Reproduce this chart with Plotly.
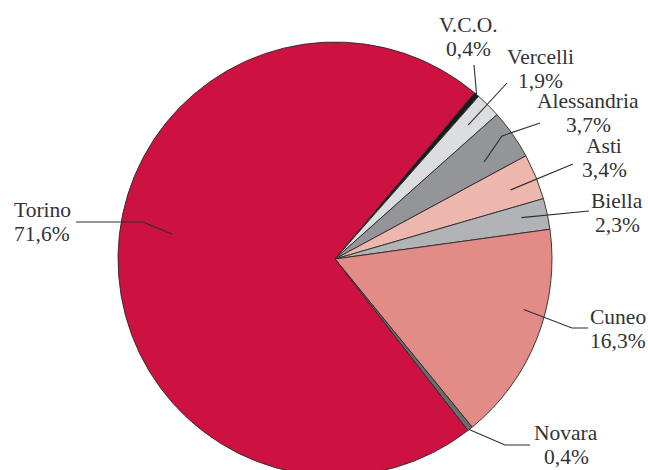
import math
import plotly.graph_objects as go

# ---- data ----
labels = ["V.C.O.", "Vercelli", "Alessandria", "Asti", "Biella", "Cuneo", "Novara", "Torino"]
shares = [0.4, 1.9, 3.7, 3.4, 2.3, 16.3, 0.4, 71.6]
share_text = ["0,4%", "1,9%", "3,7%", "3,4%", "2,3%", "16,3%", "0,4%", "71,6%"]

# ---- style ----
colors = ["#1c1a1b", "#dcdddf", "#939598", "#edb7ae", "#b1b3b6", "#e38b86", "#6b6c6e", "#cd1140"]
PAGE_OFF = 0           # body margin removed by post_script
W, H = 648, 476        # figure size (bottom of pie runs past the window)
ROT = 40               # first slice start, degrees clockwise from 12 o'clock
# pie center / radius in page pixels
CX, CY, R = 335, 259, 217
FONT = dict(family="Liberation Serif, Times New Roman, serif", size=21.5, color="#333333")
LINE_PITCH = 24.0

# leader styling: (angle offset deg, radius fraction, outer polyline page-px points, label center page-px)
leader_style = {
    "V.C.O.":      (0.0, 1.00, [(474, 65)], (468, 37)),
    "Vercelli":    (0.0, 0.87, [(507, 83)], (540, 69)),
    "Alessandria": (2.0, 0.82, [(502, 136), (540, 123)], (588, 113)),
    "Asti":        (0.8, 0.87, [(573, 164)], (604, 158)),
    "Biella":      (-0.5, 0.88, [(589, 211)], (617, 213)),
    "Cuneo":       (-6.5, 0.90, [(572, 328), (588, 328)], (618, 329)),
    "Novara":      (0.3, 1.00, [(505, 445), (530, 445)], (566, 445)),
    "Torino":      (7.6, 0.76, [(143, 222), (76, 222)], (42, 222)),
}


def px2paper(x, y):
    return (x - PAGE_OFF) / W, 1 - (y - PAGE_OFF) / H


dx0, dy1 = px2paper(CX - R, CY - R)
dx1, dy0 = px2paper(CX + R, CY + R)

fig = go.Figure(go.Pie(
    labels=labels,
    values=shares,
    sort=False,
    direction="clockwise",
    rotation=ROT,
    textinfo="none",
    hoverinfo="label+percent",
    marker=dict(colors=colors, line=dict(color="#2a2a2a", width=0.9)),
    domain=dict(x=[max(dx0, 0), min(dx1, 1)], y=[max(dy0, 0), min(dy1, 1)]),
    showlegend=False,
))

total = sum(shares)
cum = 0.0
shapes = []
annotations = []
for lab, v, txt in zip(labels, shares, share_text):
    mid = ROT + (cum + v / 2) / total * 360
    cum += v
    off, frac, pts, lc = leader_style[lab]
    a = math.radians(mid + off)
    ix = CX + frac * R * math.sin(a)
    iy = CY - frac * R * math.cos(a)
    poly = [(ix, iy)] + pts
    path = ""
    for k, (x, y) in enumerate(poly):
        px, py = px2paper(x, y)
        path += ("M" if k == 0 else " L") + f" {px:.5f},{py:.5f}"
    shapes.append(dict(type="path", xref="paper", yref="paper", path=path,
                       line=dict(color="#2e2e2e", width=1.1)))
    for j, line_txt in enumerate([lab, txt]):
        ax, ay = px2paper(lc[0], lc[1] + (j - 0.5) * LINE_PITCH)
        annotations.append(dict(
            x=ax, y=ay, xref="paper", yref="paper", showarrow=False,
            text=line_txt, align="center", xanchor="center", yanchor="middle",
            font=FONT, borderpad=0,
        ))

fig.update_layout(
    width=W, height=H,
    margin=dict(l=0, r=0, t=0, b=0),
    paper_bgcolor="white",
    plot_bgcolor="white",
    shapes=shapes,
    annotations=annotations,
)

fig.write_html(
    "out.html",
    config={"displayModeBar": False},
    post_script="document.body.style.margin='0';document.body.style.overflow='hidden';",
)
